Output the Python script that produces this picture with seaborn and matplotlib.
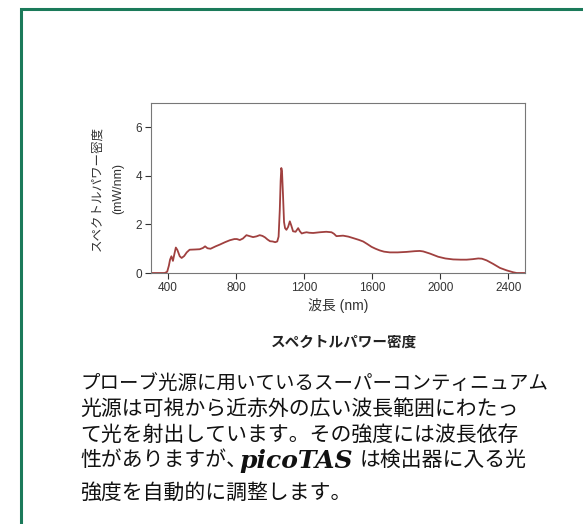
import seaborn as sns
import matplotlib.pyplot as plt
from matplotlib.patches import Rectangle

# spectrum (wavelength nm, power mW/nm)
wavelength = [300, 340, 380, 395, 405, 412, 420, 429, 438, 446, 455, 469, 480, 495,
              510, 527, 560, 586, 605, 618, 632, 650, 680, 704, 735, 763, 790, 805,
              822, 840, 861, 880, 900, 920, 939, 955, 970, 985, 1000, 1015, 1030,
              1042, 1050, 1057, 1062, 1066, 1070, 1076, 1082, 1088, 1096, 1106,
              1116, 1125, 1135, 1150, 1165, 1175, 1186, 1200, 1214, 1230, 1253,
              1292, 1330, 1361, 1375, 1390, 1410, 1429, 1460, 1488, 1520, 1547,
              1570, 1596, 1620, 1645, 1670, 1704, 1750, 1802, 1850, 1880, 1900,
              1940, 1988, 2030, 2076, 2120, 2155, 2190, 2224, 2245, 2273, 2310,
              2351, 2390, 2429, 2449, 2470, 2500]
power = [0, 0, 0, 0.05, 0.3, 0.55, 0.69, 0.5, 0.8, 1.05, 0.95, 0.69, 0.62, 0.7,
         0.85, 0.96, 0.97, 0.98, 1.03, 1.1, 1.02, 1.0, 1.1, 1.17, 1.27, 1.35,
         1.4, 1.4, 1.36, 1.42, 1.56, 1.52, 1.48, 1.51, 1.56, 1.53, 1.47, 1.38,
         1.31, 1.3, 1.27, 1.3, 1.5, 2.6, 3.8, 4.33, 4.2, 3.2, 2.1, 1.85, 1.78,
         1.9, 2.13, 1.95, 1.72, 1.7, 1.85, 1.72, 1.63, 1.66, 1.68, 1.66, 1.65,
         1.68, 1.7, 1.68, 1.62, 1.52, 1.53, 1.54, 1.5, 1.44, 1.37, 1.3, 1.2,
         1.08, 1.0, 0.93, 0.88, 0.85, 0.85, 0.87, 0.9, 0.91, 0.89, 0.8, 0.67,
         0.6, 0.56, 0.55, 0.55, 0.57, 0.6, 0.59, 0.52, 0.38, 0.21, 0.11, 0.03,
         0, 0, 0]

xticks = [400, 800, 1200, 1600, 2000, 2400]
yticks = [0, 2, 4, 6]

body_lines = ["プローブ光源に用いているスーパーコンティニュアム",
              "光源は可視から近赤外の広い波長範囲にわたっ",
              "て光を射出しています。その強度には波長依存"]
line4_parts = ["性がありますが、", "picoTAS", "は検出器に入る光"]
last_line = "強度を自動的に調整します。"

sns.set_style("ticks")
plt.rcParams['font.family'] = ['Liberation Sans', 'Noto Sans CJK JP']
cjk = ['Noto Sans CJK JP', 'DejaVu Sans']

fig = plt.figure(figsize=(5.83, 5.24), dpi=100)
ax = fig.add_axes([0.259, 0.479, 0.642, 0.324])

sns.lineplot(x=wavelength, y=power, ax=ax, color='#a0403f', linewidth=1.3)

ax.set_xlim(300, 2500)
ax.set_ylim(0, 7)
ax.set_xticks(xticks)
ax.set_yticks(yticks)
ax.tick_params(labelsize=8.5, colors='#333333', length=4, width=0.8, pad=2.5)
for s in ax.spines.values():
    s.set_color('#777777')
    s.set_linewidth(0.8)
ax.set_xlabel('波長 (nm)', fontsize=10, color='#333333', labelpad=3)
ax.set_ylabel('スペクトルパワー密度\n(mW/nm)', fontsize=9, color='#333333',
              labelpad=8, linespacing=2.0)

# green frame
fig.patches.append(Rectangle((21 / 583, -0.1), 1.2, 1 - 9 / 524 + 0.1,
                             transform=fig.transFigure, fill=False,
                             edgecolor='#1b7a5a', linewidth=2.2))

fig.text(344 / 583, 1 - 342 / 524, 'スペクトルパワー密度', fontsize=10.5,
         fontweight='bold', ha='center', va='center', color='#222222',
         family=cjk)

ys = [383, 409, 435]
sizes = [14, 15, 15]
for y, line, fs in zip(ys, body_lines, sizes):
    fig.text(80 / 583, 1 - y / 524, line, fontsize=fs, ha='left', va='center',
             color='#111111', family=cjk)

# line with picoTAS in bold italic serif
fig.canvas.draw()
renderer = fig.canvas.get_renderer()
x = 80
y4 = 1 - 460 / 524
t = fig.text(x / 583, y4, line4_parts[0], fontsize=15, ha='left', va='center',
             color='#111111', family=cjk)
x = t.get_window_extent(renderer).x1 - 8
t = fig.text(x / 583, y4 - 1 / 524, line4_parts[1], fontsize=18, ha='left',
             va='center', family='DejaVu Serif', fontweight='bold',
             style='italic', color='#111111')
x = t.get_window_extent(renderer).x1 + 7
fig.text(x / 583, y4, line4_parts[2], fontsize=15, ha='left', va='center',
         color='#111111', family=cjk)

fig.text(80 / 583, 1 - 493 / 524, last_line, fontsize=15, ha='left',
         va='center', color='#111111', family=cjk)

plt.savefig('out.png', dpi=100)
